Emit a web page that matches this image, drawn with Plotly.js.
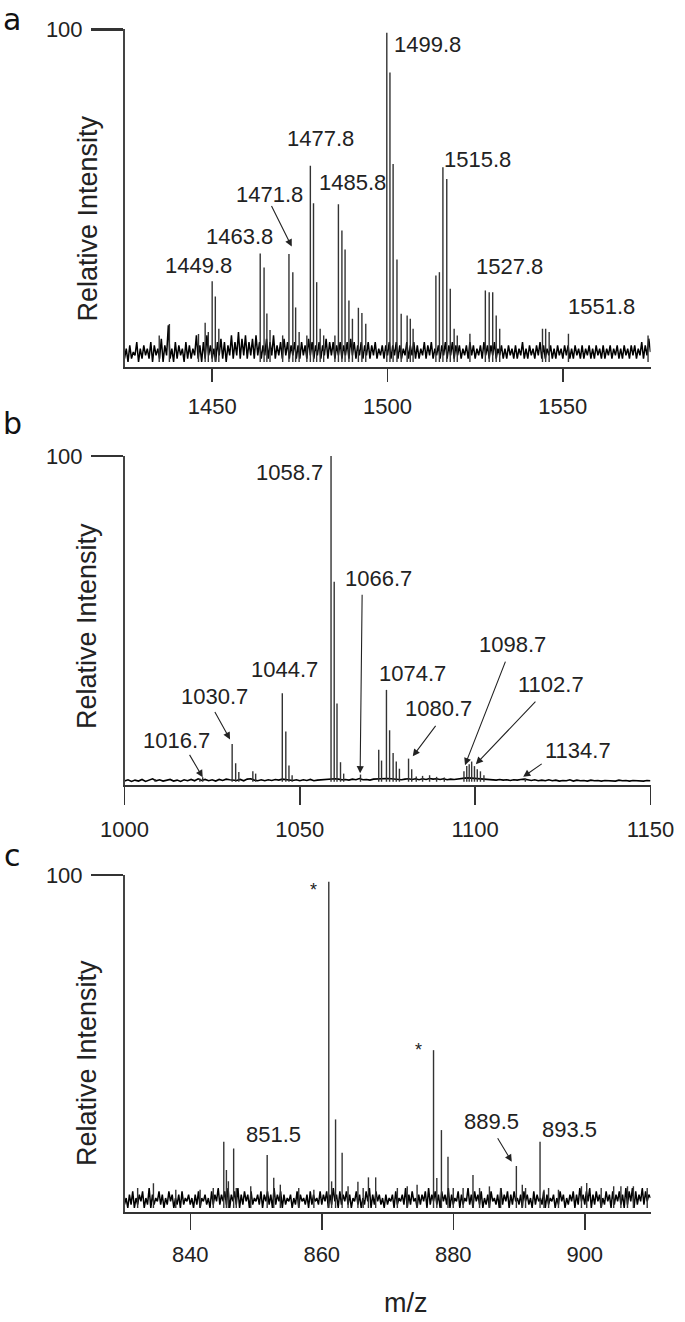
<!DOCTYPE html>
<html>
<head>
<meta charset="utf-8">
<script src="https://cdn.plot.ly/plotly-3.0.1.min.js"></script>
<style>html,body{margin:0;padding:0;background:#fff;}#chart{width:685px;height:1322px;}</style>
</head>
<body>
<div id="chart"></div>
<script>
// ---------- DATA ----------
// Panel a: peak sticks (m/z, relative intensity)
var aMz  = [1434.9,1437.8,1446.1,1448.0,1448.9,1450.0,1450.9,1451.9,1463.7,1464.8,1465.6,1466.5,1470.1,1471.9,1473.0,1473.8,1474.8,1477.0,1478.0,1478.9,1479.8,1480.8,1481.8,1485.0,1486.0,1487.0,1487.9,1489.0,1490.0,1491.7,1492.7,1493.8,1499.8,1500.7,1501.6,1502.7,1503.9,1505.6,1506.5,1507.3,1513.8,1514.8,1515.8,1516.9,1517.9,1519.0,1519.9,1523.5,1527.9,1529.0,1530.0,1531.0,1532.0,1544.2,1545.1,1546.1,1551.6,1574.3];
var aInt = [8,11.4,8.4,11.8,9,24.3,19.7,10,32.6,28.4,14.6,9.6,8,32.5,27,16.4,9,8,59,47.7,24,10,8,8,47.4,39.5,33.8,18.5,13,16.3,14.7,11.5,99,87,59.5,30.8,14.5,14,13,10,26,27,58.5,55,22,10,8,8.5,21.5,21,21,14,10,10,10,9,8.5,8];
// Panel a: baseline noise, sampled every 0.5 m/z from 1425
var aNoiseStart = 1425, aNoiseStep = 0.5;
var aNoise = [
1,4,0,5,1,3,2,6,0,4,1,5,2,4,1,6,0,5,2,4,
1,7,0,5,2,11,1,4,0,6,1,5,2,4,0,6,1,5,1,4,
2,8,1,5,0,6,1,8,2,5,1,4,0,6,2,7,1,6,0,5,
2,8,1,6,2,9,1,7,2,8,1,6,2,7,1,8,2,6,1,5,
2,7,1,6,2,8,1,5,2,6,1,7,2,6,1,5,2,6,1,5,
1,6,2,5,1,7,2,6,1,5,2,6,1,5,2,7,1,6,2,6,
1,5,2,6,1,5,2,6,1,7,2,6,1,5,2,6,1,5,2,6,
1,5,2,6,1,4,2,5,1,5,2,6,1,5,2,6,1,5,1,4,
2,6,1,5,2,6,1,5,1,4,2,6,1,5,2,6,1,4,2,5,
1,5,2,6,1,5,2,6,1,5,2,5,1,4,2,5,1,6,2,5,
1,4,2,5,1,6,2,5,1,5,2,6,1,4,2,5,1,4,1,5,
2,4,1,5,1,4,2,6,1,4,1,5,2,4,1,5,2,6,1,5,
1,4,2,5,1,4,1,5,2,4,1,5,2,5,1,4,1,5,2,4,
1,5,1,4,2,5,1,4,1,5,2,4,1,5,1,4,2,5,1,4,
2,5,1,4,1,5,2,4,1,5,2,5,1,4,2,6,1,5,2,7,3];
var aLabels = ['1449.8','1463.8','1471.8','1477.8','1485.8','1499.8','1515.8','1527.8','1551.8'];

// Panel b
var bMz  = [1008.7,1021.5,1022.3,1030.7,1031.7,1032.6,1036.6,1037.4,1045.0,1046.0,1046.9,1047.8,1058.9,1059.8,1060.6,1061.6,1062.5,1067.3,1072.5,1073.3,1074.7,1075.6,1076.6,1077.5,1078.4,1081.0,1081.9,1083.2,1085.0,1087.0,1089.0,1091.2,1096.8,1097.6,1098.3,1099.0,1099.8,1100.6,1101.5,1102.5,1114.3];
var bInt = [0.8,1.0,1.4,11.6,5.7,3.0,3.2,2.5,27.2,15.4,5.0,2.0,100,61.4,24,6,2.5,2.2,9.8,6.5,28.2,15.8,8.8,6.2,4,7.1,3.8,1.6,1.8,2.0,1.5,1.3,3.2,4.8,5.4,6.2,4.8,3.8,3.2,2.0,1.0];
var bNoiseStart = 1000, bNoiseStep = 1;
var bNoise = [
0.2,0.6,0.1,0.5,0.2,0.7,0.1,0.5,0.9,0.3,0.6,0.2,0.5,0.7,0.2,0.5,0.1,0.6,0.3,0.7,
0.3,0.9,0.4,0.7,0.3,0.6,0.2,0.7,0.4,0.8,0.6,0.5,0.4,0.7,0.3,0.8,0.9,0.5,0.3,0.6,
0.3,0.6,0.4,0.7,0.5,0.8,0.6,0.5,0.4,0.6,0.3,0.6,0.4,0.7,0.3,0.5,0.6,0.7,0.8,0.9,
0.9,0.8,0.6,0.7,0.5,0.8,0.6,1.0,0.6,0.7,0.5,0.8,0.9,1.0,1.1,1.0,0.9,0.8,0.7,0.6,
0.8,0.9,0.7,0.9,0.6,0.9,0.7,1.0,0.8,0.9,0.7,0.9,0.6,0.8,0.7,0.9,1.0,1.1,1.2,1.1,
1.0,0.9,0.8,0.7,0.6,0.6,0.5,0.7,0.5,0.6,0.4,0.6,0.5,0.7,0.8,0.6,0.4,0.6,0.3,0.5,
0.3,0.6,0.3,0.5,0.2,0.4,0.3,0.6,0.2,0.5,0.3,0.4,0.2,0.5,0.3,0.4,0.2,0.4,0.3,0.4,
0.2,0.5,0.3,0.4,0.2,0.4,0.3,0.4,0.2,0.4,0.3];
var bLabels = ['1016.7','1030.7','1044.7','1058.7','1066.7','1074.7','1080.7','1098.7','1102.7','1134.7'];

// Panel c
var cMz  = [832.0,834.4,837.8,841.5,843.5,845.1,845.5,845.8,846.6,847.0,849.2,851.7,852.7,853.7,856.5,858.8,861.07,861.5,862.1,863.1,864.0,865.5,866.3,867.1,868.2,871.5,873.0,874.5,877.0,877.5,878.2,879.2,880.0,881.5,883.0,884.0,885.5,887.2,889.6,890.5,891.0,893.2,893.8,894.5,896.0,899.5,900.3,902.5,904.4,905.5,906.5,907.4,909.5];
var cInt = [6,7.4,5.5,5.5,6,19.9,11.4,8,17.9,6,6.5,15.9,9.1,7,6,5.5,98,8,26.6,16.6,6.5,7.9,6,9.2,9.2,6,6.5,7,47.4,9,23.4,15.4,6,6,9.9,6,6.5,6,12.6,7,6,19.9,5.5,6,5.5,6.5,7.5,6,6.5,6.5,6.5,6.5,6];
var cNoiseStart = 830, cNoiseStep = 0.25;
var cNoise = [
1,3,0,4,1,5,0,3,1,4,2,5,0,3,1,6,0,4,1,3,
2,5,1,4,0,3,1,5,2,4,0,3,1,4,0,5,1,3,2,4,
1,3,0,4,1,5,0,3,2,4,1,3,0,5,1,4,2,6,1,4,
2,5,1,6,0,4,2,5,1,6,0,4,1,5,2,4,0,5,1,3,
2,4,1,5,0,4,2,5,1,4,0,6,1,4,2,5,0,4,1,3,
2,4,0,3,1,5,0,4,2,3,1,4,0,5,1,4,2,3,1,5,
1,4,2,5,0,4,1,6,2,4,0,5,1,4,2,5,1,4,0,3,
2,5,1,4,0,3,1,5,2,6,0,4,1,5,2,4,1,3,0,4,
1,3,2,4,0,5,1,3,2,4,1,6,0,4,1,5,2,3,0,4,
1,4,2,5,0,6,1,4,2,5,1,4,0,5,2,4,1,6,0,4,
1,3,2,5,0,4,1,3,2,6,1,4,0,5,2,4,1,5,0,3,
1,4,0,5,2,3,1,4,0,6,1,4,2,5,0,4,1,5,2,3,
1,4,0,5,2,4,1,3,0,5,1,4,2,3,1,5,0,4,1,3,
2,4,0,3,1,5,2,4,0,3,1,4,2,5,0,4,1,6,2,4,
1,5,2,6,0,4,1,5,2,4,0,3,1,5,2,4,0,5,1,4,
2,5,1,4,0,6,1,5,2,6,0,5,1,4,2,6,1,5,2,4,
3];
var cLabels = ['851.5','889.5','893.5'];
var cStars  = ['*','*'];

var ticksA = [1450,1500,1550];
var ticksB = [1000,1050,1100,1150];
var ticksC = [840,860,880,900];
var panelLetters = ['a','b','c'];
var yTitle = 'Relative Intensity';
var xTitle = 'm/z';

// ---------- LAYOUT / STYLE ----------
var FONT = 'Arial, Liberation Sans, Helvetica, sans-serif';
var TXT = '#222';

function sticks(mz, inten, xa, ya) {
  var x = [], y = [];
  for (var i = 0; i < mz.length; i++) { x.push(mz[i], mz[i], null); y.push(0, inten[i], null); }
  return {type:'scatter', mode:'lines', x:x, y:y, xaxis:xa, yaxis:ya,
          line:{color:'#333', width:1.4}, hoverinfo:'skip', showlegend:false};
}
function noise(start, step, vals, xa, ya, w) {
  var x = vals.map(function(_, i){ return start + i*step; });
  return {type:'scatter', mode:'lines', x:x, y:vals, xaxis:xa, yaxis:ya,
          line:{color:'#000', width:w}, hoverinfo:'skip', showlegend:false};
}

var data = [
  noise(aNoiseStart, aNoiseStep, aNoise, 'x', 'y', 1.5),
  sticks(aMz, aInt, 'x', 'y'),
  noise(bNoiseStart, bNoiseStep, bNoise, 'x2', 'y2', 1.6),
  sticks(bMz, bInt, 'x2', 'y2'),
  noise(cNoiseStart, cNoiseStep, cNoise, 'x3', 'y3', 1.5),
  sticks(cMz, cInt, 'x3', 'y3')
];

var H = 1322, W = 685;
function py(p){ return 1 - p/H; }
var xDom = [124.5/W, 650.5/W];

function xAxis(range, ticks, ticklen, anchor) {
  return {domain:xDom, range:range, anchor:anchor, tickmode:'array', tickvals:ticks,
    ticks:'outside', ticklen:ticklen, tickwidth:1.5, tickcolor:'#333',
    showline:true, linecolor:'#333', linewidth:2, showgrid:false, zeroline:false,
    ticklabelstandoff:6, tickfont:{family:FONT, size:22, color:TXT}, fixedrange:true};
}
function yAxis(dom, range, anchor) {
  return {domain:dom, range:range, anchor:anchor, tickmode:'array', tickvals:[100], ticktext:['100'],
    ticks:'outside', ticklen:32, tickwidth:2.5, tickcolor:'#333',
    showline:true, linecolor:'#444', linewidth:1.5, showgrid:false, zeroline:false,
    ticklabelstandoff:4, tickfont:{family:FONT, size:22, color:TXT}, fixedrange:true};
}

var ann = [];
function label(text, x, y, xr, yr) {
  ann.push({text:text, x:x, y:y, xref:xr, yref:yr, showarrow:false, xanchor:'center', yanchor:'middle',
            font:{family:FONT, size:22, color:TXT}});
}
function arrow(x, y, ax, ay, xr, yr) {
  ann.push({text:'', x:x, y:y, xref:xr, yref:yr, ax:ax, ay:ay, showarrow:true,
            arrowhead:2, arrowsize:1.3, arrowwidth:1.1, arrowcolor:'#222', standoff:0, startstandoff:0});
}

var posA = [[1446.2,29.1],[1457.9,37.7],[1466.4,50.4],[1480.9,67.1],[1490.0,54.0],[1511.3,95.5],[1525.6,61],[1534.9,28.8],[1561.0,16.8]];
aLabels.forEach(function(t,i){ label(t, posA[i][0], posA[i][1], 'x', 'y'); });
arrow(1472.7, 34.7, -21, -42, 'x', 'y');

var posB = [[1014.8,12.8],[1025.7,26.3],[1045.6,34.5],[1047.0,94.9],[1072.3,62.5],[1082.2,33.3],[1089.6,22.5],[1110.7,42.1],[1121.5,29.9],[1129.2,9.5]];
bLabels.forEach(function(t,i){ label(t, posB[i][0], posB[i][1], 'x2', 'y2'); });
arrow(1022.3, 1.35, -14, -24, 'x2', 'y2');
arrow(1030.1, 13.0, -16, -29, 'x2', 'y2');
arrow(1067.2, 2.6, 2, -180, 'x2', 'y2');
arrow(1082.2, 7.8, 24, -32, 'x2', 'y2');
arrow(1097.1, 5.1, 41, -105, 'x2', 'y2');
arrow(1100.2, 5.4, 61, -64, 'x2', 'y2');
arrow(1113.7, 1.5, 20, -14, 'x2', 'y2');

var posC = [[852.7,22.2],[885.8,25.9],[897.7,23.7]];
cLabels.forEach(function(t,i){ label(t, posC[i][0], posC[i][1], 'x3', 'y3'); });
arrow(888.9, 13.9, -15, -25, 'x3', 'y3');
var posStar = [[858.7,95.5],[874.7,47.4]];
cStars.forEach(function(t,i){
  ann.push({text:t, x:posStar[i][0], y:posStar[i][1], xref:'x3', yref:'y3', showarrow:false,
            xanchor:'center', yanchor:'middle', font:{family:FONT, size:18, color:TXT}});
});

// panel letters (box top positions)
var letterTop = [0, 404, 836];
panelLetters.forEach(function(t,i){
  ann.push({text:t, x:12/W, y:py(letterTop[i]), xref:'paper', yref:'paper', showarrow:false,
            xanchor:'center', yanchor:'top', font:{family:'DejaVu Sans, sans-serif', size:30, color:'#111'}});
});
// y titles
var yTitleY = [218.5, 626, 1063];
yTitleY.forEach(function(v){
  ann.push({text:yTitle, x:87/W, y:py(v), xref:'paper', yref:'paper', showarrow:false, textangle:-90,
            xanchor:'center', yanchor:'middle', font:{family:FONT, size:27, color:TXT}});
});
ann.push({text:xTitle, x:405.7/W, y:py(1303), xref:'paper', yref:'paper', showarrow:false,
          xanchor:'center', yanchor:'middle', font:{family:FONT, size:27, color:TXT}});

var layout = {
  width:W, height:H, margin:{l:0,r:0,t:0,b:0},
  paper_bgcolor:'#fff', plot_bgcolor:'#fff', showlegend:false,
  xaxis:  xAxis([1425,1575], ticksA, 13, 'y'),
  yaxis:  yAxis([py(367), py(29.3)], [-1.5,100], 'x'),
  xaxis2: xAxis([1000,1150], ticksB, 18, 'y2'),
  yaxis2: yAxis([py(785), py(456)], [-1,100], 'x2'),
  xaxis3: xAxis([830,910], ticksC, 16, 'y3'),
  yaxis3: yAxis([py(1212), py(875)], [-1.2,100], 'x3'),
  annotations: ann
};

Plotly.newPlot('chart', data, layout, {staticPlot:true, displayModeBar:false});
</script>
</body>
</html>
